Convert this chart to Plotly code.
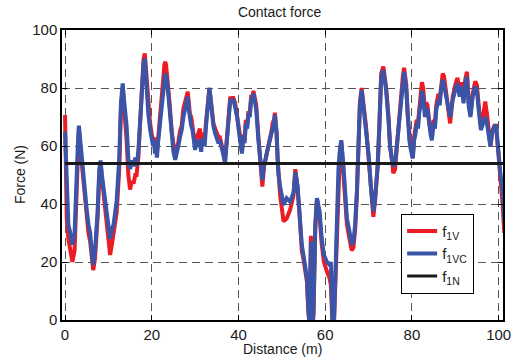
import plotly.graph_objects as go

distance = [
    0.0, 0.2, 0.4, 0.77, 1.2, 1.7, 2.2, 2.7,
    3.0, 3.2, 3.6, 4.2, 4.6, 5.0, 5.4, 5.8,
    6.15, 6.5, 6.9, 7.5, 7.9, 8.2, 8.5, 8.8,
    9.2, 9.6, 10.0, 10.4, 10.8, 11.2, 11.9, 12.5,
    12.9, 13.3, 13.6, 13.8, 14.2, 14.6, 15.0, 15.4,
    15.8, 16.2, 16.5, 16.9,
    17.3, 17.6, 17.9, 18.1, 18.4, 18.6, 18.8, 19.0,
    19.2, 19.6, 20.0, 20.3, 20.5, 20.76, 21.0, 21.2,
    21.5, 22.1, 22.4, 22.7, 22.9, 23.1, 23.3, 23.5,
    23.8, 24.1, 24.6, 25.0, 25.4, 25.7, 26.1, 26.5,
    26.9, 27.3, 27.7, 28.0, 28.3, 28.6, 28.8, 29.1,
    29.4, 29.7, 30.0, 30.2, 30.4, 30.7, 31.1, 31.4,
    31.6, 31.9, 32.2, 32.5, 32.9, 33.3, 33.6, 33.8,
    34.2, 34.6, 35.0, 35.4, 35.7, 36.1, 36.5, 36.9,
    37.1, 37.4, 37.8, 38.1, 38.4, 38.7, 39.2, 39.7,
    40.1, 40.4, 40.8, 41.1, 41.4, 41.7, 42.0, 42.3,
    42.6, 42.9, 43.2, 43.45, 43.8, 44.1, 44.6, 45.1,
    45.5, 45.9, 46.2, 46.5, 46.9, 47.3, 47.6, 47.9,
    48.2, 48.4, 48.6, 48.8, 49.0, 49.2, 49.6,
    50.4, 51.1, 51.9, 52.7, 53.1, 53.6, 54.1, 54.6,
    55.1, 55.8, 56.1, 56.4, 56.7, 57.1, 57.3, 57.7,
    58.1, 58.7, 59.2, 59.7, 60.4, 61.0, 61.3, 61.7,
    62.0, 62.3, 62.7, 63.05, 63.4, 63.7, 64.2, 64.6,
    65.0, 65.6, 66.1, 66.5, 66.9, 67.3, 67.7, 68.0,
    68.4, 68.8, 69.4, 70.0, 70.5, 71.1, 71.5, 72.1,
    72.5,
    72.9, 73.4, 74.05, 74.6, 74.96, 75.4, 75.7, 76.1,
    76.4, 76.9, 77.4, 77.9, 78.2, 78.7, 79.0, 79.4,
    79.7, 80.0, 80.2, 80.5, 80.8, 81.1, 81.4, 81.7,
    82.0, 82.3, 82.6, 83.0, 83.3, 83.6, 84.0, 84.3,
    84.6, 84.97, 85.3, 85.6, 86.1, 86.4, 86.7, 87.1,
    87.4, 87.7, 88.2, 88.5, 88.8, 89.1, 89.4, 90.0,
    90.5, 91.0, 91.5, 91.9, 92.3, 92.7, 93.1, 93.5,
    94.0, 94.6, 94.97, 95.4, 95.9, 96.4, 96.9, 97.3,
    97.7, 98.1, 98.5, 99.0, 99.4, 99.7, 100.0, 100.3,
    100.6, 100.9, 101.3,
]

f1vc = [
    65, 55, 40, 33, 30, 26, 30, 55,
    62, 67, 60, 50, 42, 38, 33, 30,
    23.6, 19, 23.6, 37, 52, 55, 50, 46.5,
    41, 36, 31, 28, 31, 33, 41, 55.7,
    75, 81.6, 76, 73, 67, 55.7, 52, 55,
    53, 56, 53, 58,
    67.8, 76, 86.2, 88, 90.2, 85, 81.6, 76,
    71.2, 66, 63.2, 60, 62, 57.4, 59, 56,
    62, 70, 74, 79.3, 82, 85, 84, 82.8,
    78, 73.6, 63.2, 58, 55.2, 58, 59.8, 63,
    65.5, 70, 73.6, 75, 77, 72, 69, 67,
    65.5, 61, 58.6, 60.5, 59.8, 62, 60.9, 58,
    62, 62, 60, 66.7, 74.7, 80, 76, 71.2,
    67, 64.4, 62, 60.9, 62, 59.8, 57, 54,
    58, 64.4, 71, 75.9, 75, 76.4, 73.6, 70,
    65, 62, 57.4, 63.2, 61, 67.8, 66, 71.2,
    70, 75.9, 76, 78.2, 75, 72.4, 62, 52.9,
    48.3, 54, 55, 57.4, 60, 62, 64, 66.7,
    68, 70.7, 68, 64.4, 57, 50.6, 46,
    39.7, 42, 40.8, 44, 51, 46.5, 37.4, 25.9,
    21.3, 14.4, 4, -2, 27, -2, 2.9, 32.8,
    42, 37.4, 28, 22.4, 20, 19, 20, -2,
    -2, 14.4, 37.4, 52, 59, 62, 53.4, 42,
    35, 30.5, 26, 27, 32.8, 44, 58, 74,
    79.3, 74, 67, 57, 46.5, 37.4, 42, 53.4,
    67,
    83.3, 86.2, 79.3, 69, 59.8, 55.2, 52.9, 54,
    58.6, 64.4, 73.6, 82.8, 85.6, 79.3, 70, 62,
    59, 57.4, 55.7, 62, 64, 67.8, 66, 71.8,
    74, 79, 77, 70, 73, 72.4, 66.7, 64,
    62, 67.8, 66, 72.4, 75.9, 74, 79.3, 82.8,
    81, 78.2, 74.7, 72, 70, 73, 75.9, 79.3,
    81.6, 77, 80.5, 74.7, 81.6, 83.9, 73.6, 70,
    77, 80.5, 79.3, 72.4, 65.5, 67.8, 70, 67.8,
    63.2, 59.8, 64.4, 66.7, 67.2, 63.2, 57.4, 51.7,
    47.1, 44.8, 34,
]

f1v = [
    70.7, 55, 35, 28, 25, 20, 24, 50,
    60, 66, 58, 48, 40, 35, 30, 27,
    21, 17.2, 21, 35, 50, 54, 49, 45,
    38, 33, 27, 22.4, 26, 30, 37, 52,
    73, 80, 75, 70, 62, 50, 45, 48,
    47, 50, 50, 56,
    66, 76, 86, 90, 91.9, 87, 83, 78,
    73, 68, 64, 62, 63, 58, 61, 58,
    63, 72, 78, 84, 88, 89, 88, 85,
    80, 75, 65, 59, 56, 59, 61, 65,
    67, 73, 76, 77, 78.7, 74, 71, 70,
    67, 63, 60, 62, 63, 64, 66, 61,
    64, 64, 62, 68, 75, 80, 76, 72,
    68, 66, 64, 63, 63, 61, 58, 55,
    59, 65, 72, 77, 76, 77, 75, 71,
    66, 63, 58, 64, 62, 69, 67, 72,
    71, 77, 77, 79, 76, 74, 63, 52,
    46, 53, 55, 58, 61, 63, 65, 68,
    69, 71.5, 69, 64, 56, 49, 43,
    34, 35, 38, 43, 52, 46, 36, 24,
    20, 13, 3, -2, 29, -2, 2, 31,
    42, 36, 26, 20, 16.7, 14.4, 12, -2,
    -2, 12, 36, 51, 58, 61.5, 52, 40,
    33, 28, 24, 25, 31, 43, 58, 75,
    80, 75, 67, 56, 45, 35.6, 41, 53,
    68,
    85, 87.4, 80, 70, 60, 55, 50.6, 52,
    58, 65, 75, 84, 87, 81, 71, 63,
    60, 58, 56, 63, 66, 69, 68, 73,
    77, 82, 80, 72, 75, 74, 68, 65,
    63, 69, 68, 74, 78, 76, 81, 85,
    84, 80, 76, 70, 67.8, 72, 77, 81,
    83.5, 78, 82, 76, 83, 85.6, 75, 71,
    78, 82.3, 81, 74, 67, 70, 75.3, 71,
    64, 60, 65, 67, 67, 62, 56, 50,
    45, 40, 30,
]

assert len(distance) == len(f1vc) == len(f1v), (len(distance), len(f1vc), len(f1v))

f1n_level = 54
tick_vals = [0, 20, 40, 60, 80, 100]

FONT = "Liberation Sans, Arial, Helvetica, sans-serif"

fig = go.Figure()
fig.add_trace(go.Scatter(x=distance, y=f1v, mode="lines", name="f<sub>1V</sub>",
                         line=dict(color="#ED1C24", width=4)))
fig.add_trace(go.Scatter(x=distance, y=f1vc, mode="lines", name="f<sub>1VC</sub>",
                         line=dict(color="#3A55A8", width=4)))
fig.add_trace(go.Scatter(x=[distance[0], distance[-1]], y=[f1n_level, f1n_level],
                         mode="lines", name="f<sub>1N</sub>",
                         line=dict(color="#1a1a1a", width=3)))

axis_common = dict(
    showline=True, linecolor="black", linewidth=1.5, mirror="ticks",
    ticks="inside", ticklen=5, tickcolor="black", tickwidth=1,
    showgrid=True, gridcolor="#555555", gridwidth=1, griddash="8px,5px",
    zeroline=False, tickfont=dict(family=FONT, size=15, color="#1a1a1a"),
    tickvals=tick_vals, automargin=False,
)

fig.update_layout(
    width=513, height=360,
    margin=dict(l=62, r=10, t=30, b=40),
    paper_bgcolor="white", plot_bgcolor="white",
    font=dict(family=FONT, color="#1a1a1a"),
    title=dict(text="Contact force", x=0.545, xanchor="center", y=0.967, yanchor="middle",
               font=dict(family=FONT, size=14, color="#1a1a1a")),
    xaxis=dict(range=[-0.7, 101.0], **axis_common),
    yaxis=dict(range=[0, 100], **axis_common),
    legend=dict(x=0.769, y=0.366, xanchor="left", yanchor="top",
                bordercolor="black", borderwidth=1, bgcolor="white",
                font=dict(family=FONT, size=15, color="#1a1a1a"),
                itemwidth=30, tracegroupgap=0),
    showlegend=True,
    annotations=[
        dict(text="Distance (m)", xref="paper", yref="paper", x=0.5, y=-0.1,
             xanchor="center", yanchor="middle", showarrow=False,
             font=dict(family=FONT, size=14, color="#1a1a1a")),
        dict(text="Force (N)", xref="paper", yref="paper", x=-0.095, y=0.5,
             xanchor="center", yanchor="middle", showarrow=False, textangle=-90,
             font=dict(family=FONT, size=14, color="#1a1a1a")),
    ],
)

fig.write_html("out.html")
